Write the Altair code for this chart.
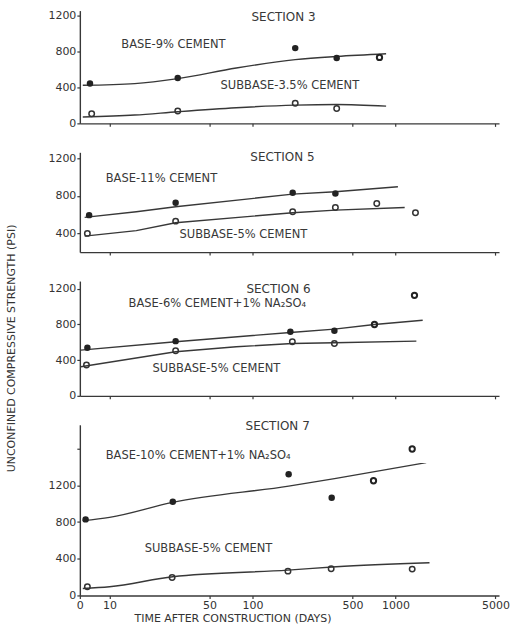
import altair as alt
import pandas as pd

# ---------------- data ----------------
# Section 3
S3_BASE_DAYS = [7.3, 30, 199, 388]
S3_BASE_PSI = [441, 504, 834, 724]
S3_RING_DAYS = [773]
S3_RING_PSI = [731]
S3_SUB_DAYS = [7.5, 30, 199, 388]
S3_SUB_PSI = [107, 136, 224, 165]
S3_BLINE_DAYS = [6.5, 15, 30, 77, 199, 388, 860]
S3_BLINE_PSI = [422, 441, 496, 614, 706, 742, 772]
S3_SLINE_DAYS = [6.5, 15, 30, 77, 199, 388, 860]
S3_SLINE_PSI = [70, 92, 129, 173, 202, 209, 191]

# Section 5
S5_BASE_DAYS = [7.2, 29, 191, 380]
S5_BASE_PSI = [595, 727, 834, 826]
S5_RING_DAYS = []
S5_RING_PSI = []
S5_SUB_DAYS = [7.0, 29, 191, 380, 740, 1380]
S5_SUB_PSI = [400, 531, 631, 677, 720, 621]
S5_BLINE_DAYS = [6.7, 15.4, 29, 191, 380, 1040]
S5_BLINE_PSI = [571, 631, 685, 819, 845, 898]
S5_SLINE_DAYS = [6.7, 15.4, 29, 191, 380, 1160]
S5_SLINE_PSI = [371, 429, 514, 621, 648, 677]

# Section 6
S6_BASE_DAYS = [7.0, 29, 184, 374]
S6_BASE_PSI = [538, 612, 716, 727]
S6_RING_DAYS = [713, 1358]
S6_RING_PSI = [798, 1125]
S6_SUB_DAYS = [6.9, 29, 190, 374]
S6_SUB_PSI = [344, 504, 605, 586]
S6_BLINE_DAYS = [6.3, 29, 184, 374, 713, 1550]
S6_BLINE_PSI = [511, 605, 709, 746, 798, 846]
S6_SLINE_DAYS = [6.3, 29, 77, 190, 374, 1400]
S6_SLINE_PSI = [326, 493, 549, 586, 594, 612]

# Section 7
S7_BASE_DAYS = [6.8, 27.7, 179, 358]
S7_BASE_PSI = [829, 1022, 1320, 1065]
S7_RING_DAYS = [702, 1309]
S7_RING_PSI = [1250, 1596]
S7_SUB_DAYS = [7.0, 27.4, 177, 355, 1309]
S7_SUB_PSI = [95, 196, 265, 291, 287]
S7_BLINE_DAYS = [6.5, 10, 27.7, 179, 384, 1640]
S7_BLINE_PSI = [815, 851, 1014, 1192, 1276, 1447]
S7_SLINE_DAYS = [6.5, 10, 27.7, 177, 384, 1730]
S7_SLINE_PSI = [76, 95, 204, 276, 313, 357]

# annotation text and anchor (days, psi)
SECTION_TITLES = ["SECTION 3", "SECTION 5", "SECTION 6", "SECTION 7"]
SECTION_DAYS = [165, 162, 152, 150]
SECTION_PSI = [1180, 1221, 1190, 1843]
BASE_LABELS = ["BASE-9% CEMENT", "BASE-11% CEMENT",
               "BASE-6% CEMENT+1% NA\u2082SO\u2084", "BASE-10% CEMENT+1% NA\u2082SO\u2084"]
BASE_LABEL_DAYS = [12.1, 9.4, 13.6, 9.4]
BASE_LABEL_PSI = [871, 976, 1025, 1523]
SUB_LABELS = ["SUBBASE-3.5% CEMENT", "SUBBASE-5% CEMENT",
              "SUBBASE-5% CEMENT", "SUBBASE-5% CEMENT"]
SUB_LABEL_DAYS = [59.7, 30.9, 20, 17.6]
SUB_LABEL_PSI = [411, 382, 299, 505]

Y_DOMAINS = [[0, 1250], [200, 1266], [0, 1284], [0, 1860]]
Y_TICKS = [[0, 400, 800, 1200], [400, 800, 1200], [0, 400, 800, 1200], [0, 400, 800, 1200, 1600]]
HEIGHTS = [113, 100, 115, 171]
LINE_INTERP = ["monotone", "linear", "linear", "monotone"]

X_TICKS = [10, 50, 100, 500, 1000, 5000]
X_DOMAIN = [6.2, 5300]

# ---------------- styling ----------------
FONT = "DejaVu Sans"
INK = "#383838"
W = 420


def make_panel(i, base_d, base_p, ring_d, ring_p, sub_d, sub_p, bl_d, bl_p, sl_d, sl_p):
    bottom = i == 3
    if bottom:
        xaxis = alt.Axis(values=[X_DOMAIN[0]] + X_TICKS,
                         labelExpr="datum.value < 7 ? '0' : format(datum.value, 'd')",
                         title="TIME  AFTER  CONSTRUCTION  (DAYS)",
                         titleX=153, titleY=23, titleAlign="center", titleBaseline="middle",
                         tickSize=3, labelPadding=1, labelFlush=False)
    else:
        xaxis = alt.Axis(values=X_TICKS, labels=False, title=None, tickSize=3)
    x = alt.X("days:Q", scale=alt.Scale(type="log", domain=X_DOMAIN, nice=False), axis=xaxis)

    if i == 2:
        yaxis = alt.Axis(values=Y_TICKS[i], format="d",
                         title="UNCONFINED  COMPRESSIVE  STRENGTH  (PSI)",
                         titleX=-68, titleY=67, titleAngle=270, titleAlign="center",
                         titleBaseline="middle", tickSize=3, labelPadding=1)
    else:
        yaxis = alt.Axis(values=Y_TICKS[i], format="d", title=None, tickSize=3, labelPadding=1,
                         labelExpr="datum.value == 1600 ? '' : format(datum.value, 'd')")
    y = alt.Y("psi:Q", scale=alt.Scale(domain=Y_DOMAINS[i], nice=False, zero=False), axis=yaxis)

    lines = pd.DataFrame({
        "days": list(bl_d) + list(sl_d),
        "psi": list(bl_p) + list(sl_p),
        "series": ["base"] * len(bl_d) + ["sub"] * len(sl_d),
    })
    base_df = pd.DataFrame({"days": base_d, "psi": base_p})
    sub_df = pd.DataFrame({"days": sub_d, "psi": sub_p})
    ring_df = pd.DataFrame({"days": ring_d, "psi": ring_p})
    sec_df = pd.DataFrame({"days": [SECTION_DAYS[i]], "psi": [SECTION_PSI[i]], "t": [SECTION_TITLES[i]]})
    lab_df = pd.DataFrame({"days": [BASE_LABEL_DAYS[i], SUB_LABEL_DAYS[i]],
                           "psi": [BASE_LABEL_PSI[i], SUB_LABEL_PSI[i]],
                           "t": [BASE_LABELS[i], SUB_LABELS[i]]})

    layers = [
        alt.Chart(lines).mark_line(interpolate=LINE_INTERP[i], color=INK, strokeWidth=1.4).encode(
            x=x, y=y, detail="series:N"),
        alt.Chart(base_df).mark_point(shape="circle", filled=True, color="#222222", size=42, opacity=1).encode(x=x, y=y),
        alt.Chart(sub_df).mark_point(shape="circle", filled=False, color="#333333", size=30, strokeWidth=1.5, opacity=1).encode(x=x, y=y),
        alt.Chart(sec_df).mark_text(font=FONT, fontSize=12, color=INK, align="center", baseline="middle").encode(
            x=x, y=y, text="t:N"),
        alt.Chart(lab_df).mark_text(font=FONT, fontSize=11.5, color=INK, align="left", baseline="middle").encode(
            x=x, y=y, text="t:N"),
    ]
    if len(ring_d):
        layers.append(alt.Chart(ring_df).mark_point(shape="circle", filled=False, color="#222222", size=28,
                                                    strokeWidth=2.0, opacity=1).encode(x=x, y=y))
    return alt.layer(*layers).properties(width=W, height=HEIGHTS[i])


panels = [
    make_panel(0, S3_BASE_DAYS, S3_BASE_PSI, S3_RING_DAYS, S3_RING_PSI, S3_SUB_DAYS, S3_SUB_PSI,
               S3_BLINE_DAYS, S3_BLINE_PSI, S3_SLINE_DAYS, S3_SLINE_PSI),
    make_panel(1, S5_BASE_DAYS, S5_BASE_PSI, S5_RING_DAYS, S5_RING_PSI, S5_SUB_DAYS, S5_SUB_PSI,
               S5_BLINE_DAYS, S5_BLINE_PSI, S5_SLINE_DAYS, S5_SLINE_PSI),
    make_panel(2, S6_BASE_DAYS, S6_BASE_PSI, S6_RING_DAYS, S6_RING_PSI, S6_SUB_DAYS, S6_SUB_PSI,
               S6_BLINE_DAYS, S6_BLINE_PSI, S6_SLINE_DAYS, S6_SLINE_PSI),
    make_panel(3, S7_BASE_DAYS, S7_BASE_PSI, S7_RING_DAYS, S7_RING_PSI, S7_SUB_DAYS, S7_SUB_PSI,
               S7_BLINE_DAYS, S7_BLINE_PSI, S7_SLINE_DAYS, S7_SLINE_PSI),
]

chart = alt.vconcat(*panels, spacing=29, bounds="flush").properties(
    padding={"left": 5, "top": 8, "right": 0, "bottom": 0},
    background="white",
).configure_view(stroke=None).configure_axis(
    grid=False,
    domainColor=INK, domainWidth=1.4,
    tickColor=INK, tickWidth=1.2,
    labelFont=FONT, labelFontSize=11, labelColor="#333333",
    titleFont=FONT, titleFontSize=11, titleFontWeight="normal", titleColor="#333333",
)

chart.save("out.html", embed_options={"renderer": "svg", "actions": False})
